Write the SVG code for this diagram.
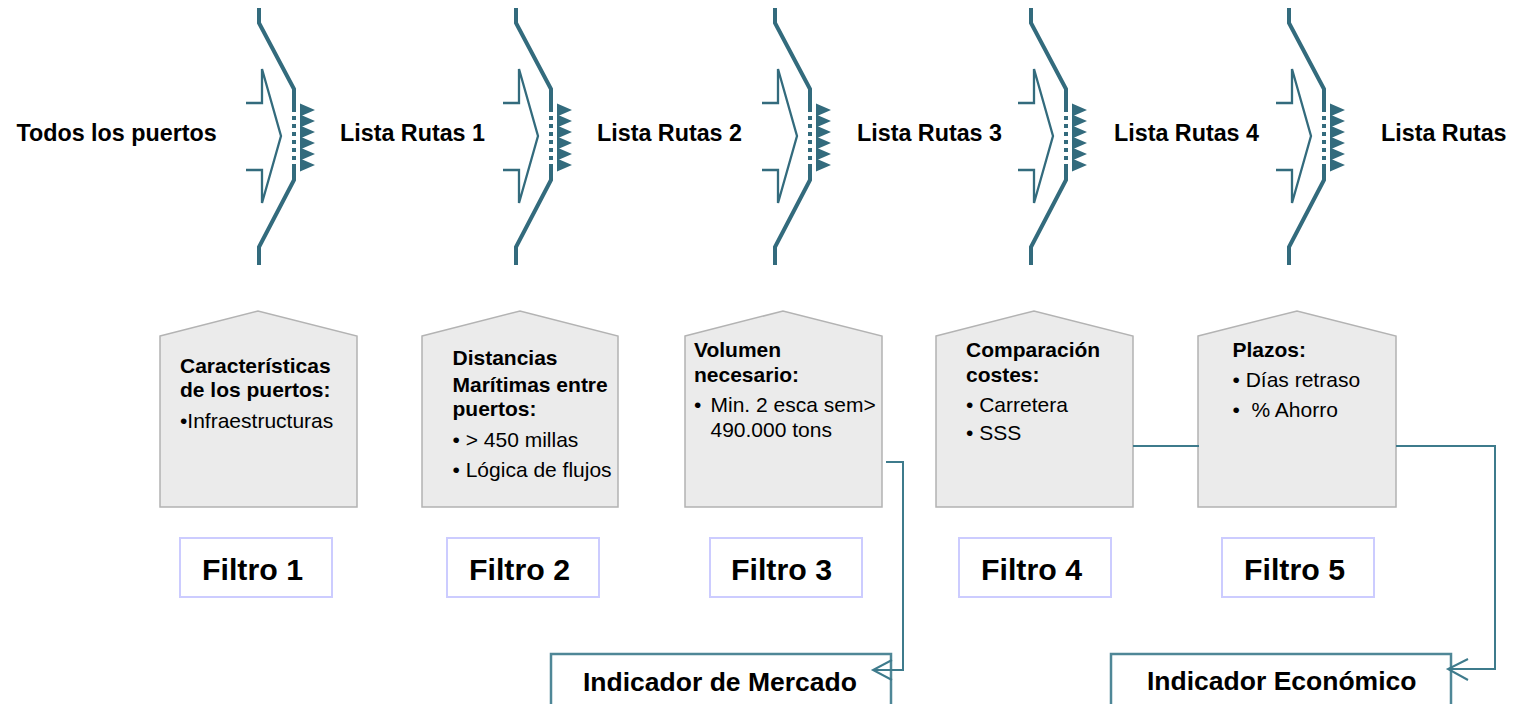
<svg xmlns="http://www.w3.org/2000/svg" xmlns:xlink="http://www.w3.org/1999/xlink" width="1514" height="704" viewBox="0 0 1514 704">
<style>
text{font-family:"Liberation Sans",Arial,sans-serif;fill:#000}
.lbl{font-size:23.3px;font-weight:bold}
.bt{font-size:21px;font-weight:bold}
.br{font-size:21px}
.fl{font-size:30.3px;font-weight:bold}
.ind{font-size:26.5px;font-weight:bold}
.house{fill:#ebebeb;stroke:#b3b3b3;stroke-width:1.5}
.fbox{fill:#fff;stroke:#ccccff;stroke-width:2}
.ibox{fill:none;stroke:#4f8797;stroke-width:2.5}
.conn{fill:none;stroke:#3e7b8c;stroke-width:2}
.fo{fill:none;stroke:#336b7d;stroke-width:4}
.fi{fill:none;stroke:#336b7d;stroke-width:2.3}
.tri{fill:#336b7d}
</style>
<defs>
<g id="filt">
<path class="fo" d="M259,8 V23 L294,89 V108"/>
<path class="fo" d="M294,108 V167" stroke-dasharray="4 4"/>
<path class="fo" d="M294,167 V180 L259,247 V265"/>
<path class="fi" d="M246,103 H262 V69 L281,136 L262,203 V170 H246"/>
<path class="tri" d="M300,103.5 L315,110 L300,116.5 Z M300,114.5 L315,121 L300,127.5 Z M300,125.5 L315,132 L300,138.5 Z M300,136.5 L315,143 L300,149.5 Z M300,147.5 L315,154 L300,160.5 Z M300,158.5 L315,165 L300,171.5 Z"/>
</g>
</defs>
<rect width="1514" height="704" fill="#fff"/>

<g id="filters">
<use xlink:href="#filt"/>
<use xlink:href="#filt" transform="translate(257,0)"/>
<use xlink:href="#filt" transform="translate(516,0)"/>
<use xlink:href="#filt" transform="translate(772,0)"/>
<use xlink:href="#filt" transform="translate(1030,0)"/>
</g>

<g id="labels">
<text class="lbl" x="16.5" y="141">Todos los puertos</text>
<text class="lbl" x="340" y="141">Lista Rutas 1</text>
<text class="lbl" x="597" y="141">Lista Rutas 2</text>
<text class="lbl" x="857" y="141">Lista Rutas 3</text>
<text class="lbl" x="1114" y="141">Lista Rutas 4</text>
<text class="lbl" x="1381" y="141">Lista Rutas</text>
</g>

<g id="box1">
<path class="house" d="M160,336 L258,311 L357,336 V507 H160 Z"/>
<text class="bt" x="180" y="373">Características</text>
<text class="bt" x="180" y="397">de los puertos:</text>
<text class="br" x="180" y="428">•Infraestructuras</text>
</g>
<g id="box2">
<path class="house" d="M422,336 L520,311 L618,336 V507 H422 Z"/>
<text class="bt" x="452.5" y="365">Distancias</text>
<text class="bt" x="452.5" y="391.5">Marítimas entre</text>
<text class="bt" x="452.5" y="416">puertos:</text>
<text class="br" x="452.5" y="447">• &gt; 450 millas</text>
<text class="br" x="452.5" y="476.5">• Lógica de flujos</text>
</g>
<g id="box3">
<path class="house" d="M685,336 L783,311 L882,336 V507 H685 Z"/>
<text class="bt" x="694" y="357">Volumen</text>
<text class="bt" x="694" y="382">necesario:</text>
<text class="br" x="694" y="412">•</text>
<text class="br" x="710.5" y="412">Min. 2 esca sem&gt;</text>
<text class="br" x="710.5" y="437">490.000 tons</text>
</g>
<g id="box4">
<path class="house" d="M936,336 L1034,311 L1133,336 V507 H936 Z"/>
<text class="bt" x="966" y="357">Comparación</text>
<text class="bt" x="966" y="382">costes:</text>
<text class="br" x="966" y="412">• Carretera</text>
<text class="br" x="966" y="440">• SSS</text>
</g>
<g id="box5">
<path class="house" d="M1198,336 L1297,311 L1396,336 V507 H1198 Z"/>
<text class="bt" x="1232.5" y="357">Plazos:</text>
<text class="br" x="1232.5" y="387">• Días retraso</text>
<text class="br" x="1232.5" y="417">•</text>
<text class="br" x="1251.5" y="417">% Ahorro</text>
</g>

<g id="filtro1"><rect class="fbox" x="180" y="538" width="152" height="59"/><text class="fl" x="202" y="580">Filtro 1</text></g>
<g id="filtro2"><rect class="fbox" x="447" y="538" width="152" height="59"/><text class="fl" x="469" y="580">Filtro 2</text></g>
<g id="filtro3"><rect class="fbox" x="710" y="538" width="152" height="59"/><text class="fl" x="731" y="580">Filtro 3</text></g>
<g id="filtro4"><rect class="fbox" x="959" y="538" width="152" height="59"/><text class="fl" x="981" y="580">Filtro 4</text></g>
<g id="filtro5"><rect class="fbox" x="1222" y="538" width="152" height="59"/><text class="fl" x="1244" y="580">Filtro 5</text></g>

<g id="ind-mercado"><rect class="ibox" x="551" y="654" width="340" height="60"/><text class="ind" x="583" y="691">Indicador de Mercado</text></g>
<g id="ind-economico"><rect class="ibox" x="1111" y="654" width="340" height="60"/><text class="ind" x="1147" y="690">Indicador Económico</text></g>

<g id="connectors">
<path class="conn" d="M886,462 H903 V670 H873"/>
<polyline class="conn" points="892,660 873,670 892,680"/>
<path class="conn" d="M1133,446 H1199"/>
<path class="conn" d="M1396,446 H1495 V669 H1448"/>
<polyline class="conn" points="1468,659 1448,669 1468,680"/>
</g>
</svg>
